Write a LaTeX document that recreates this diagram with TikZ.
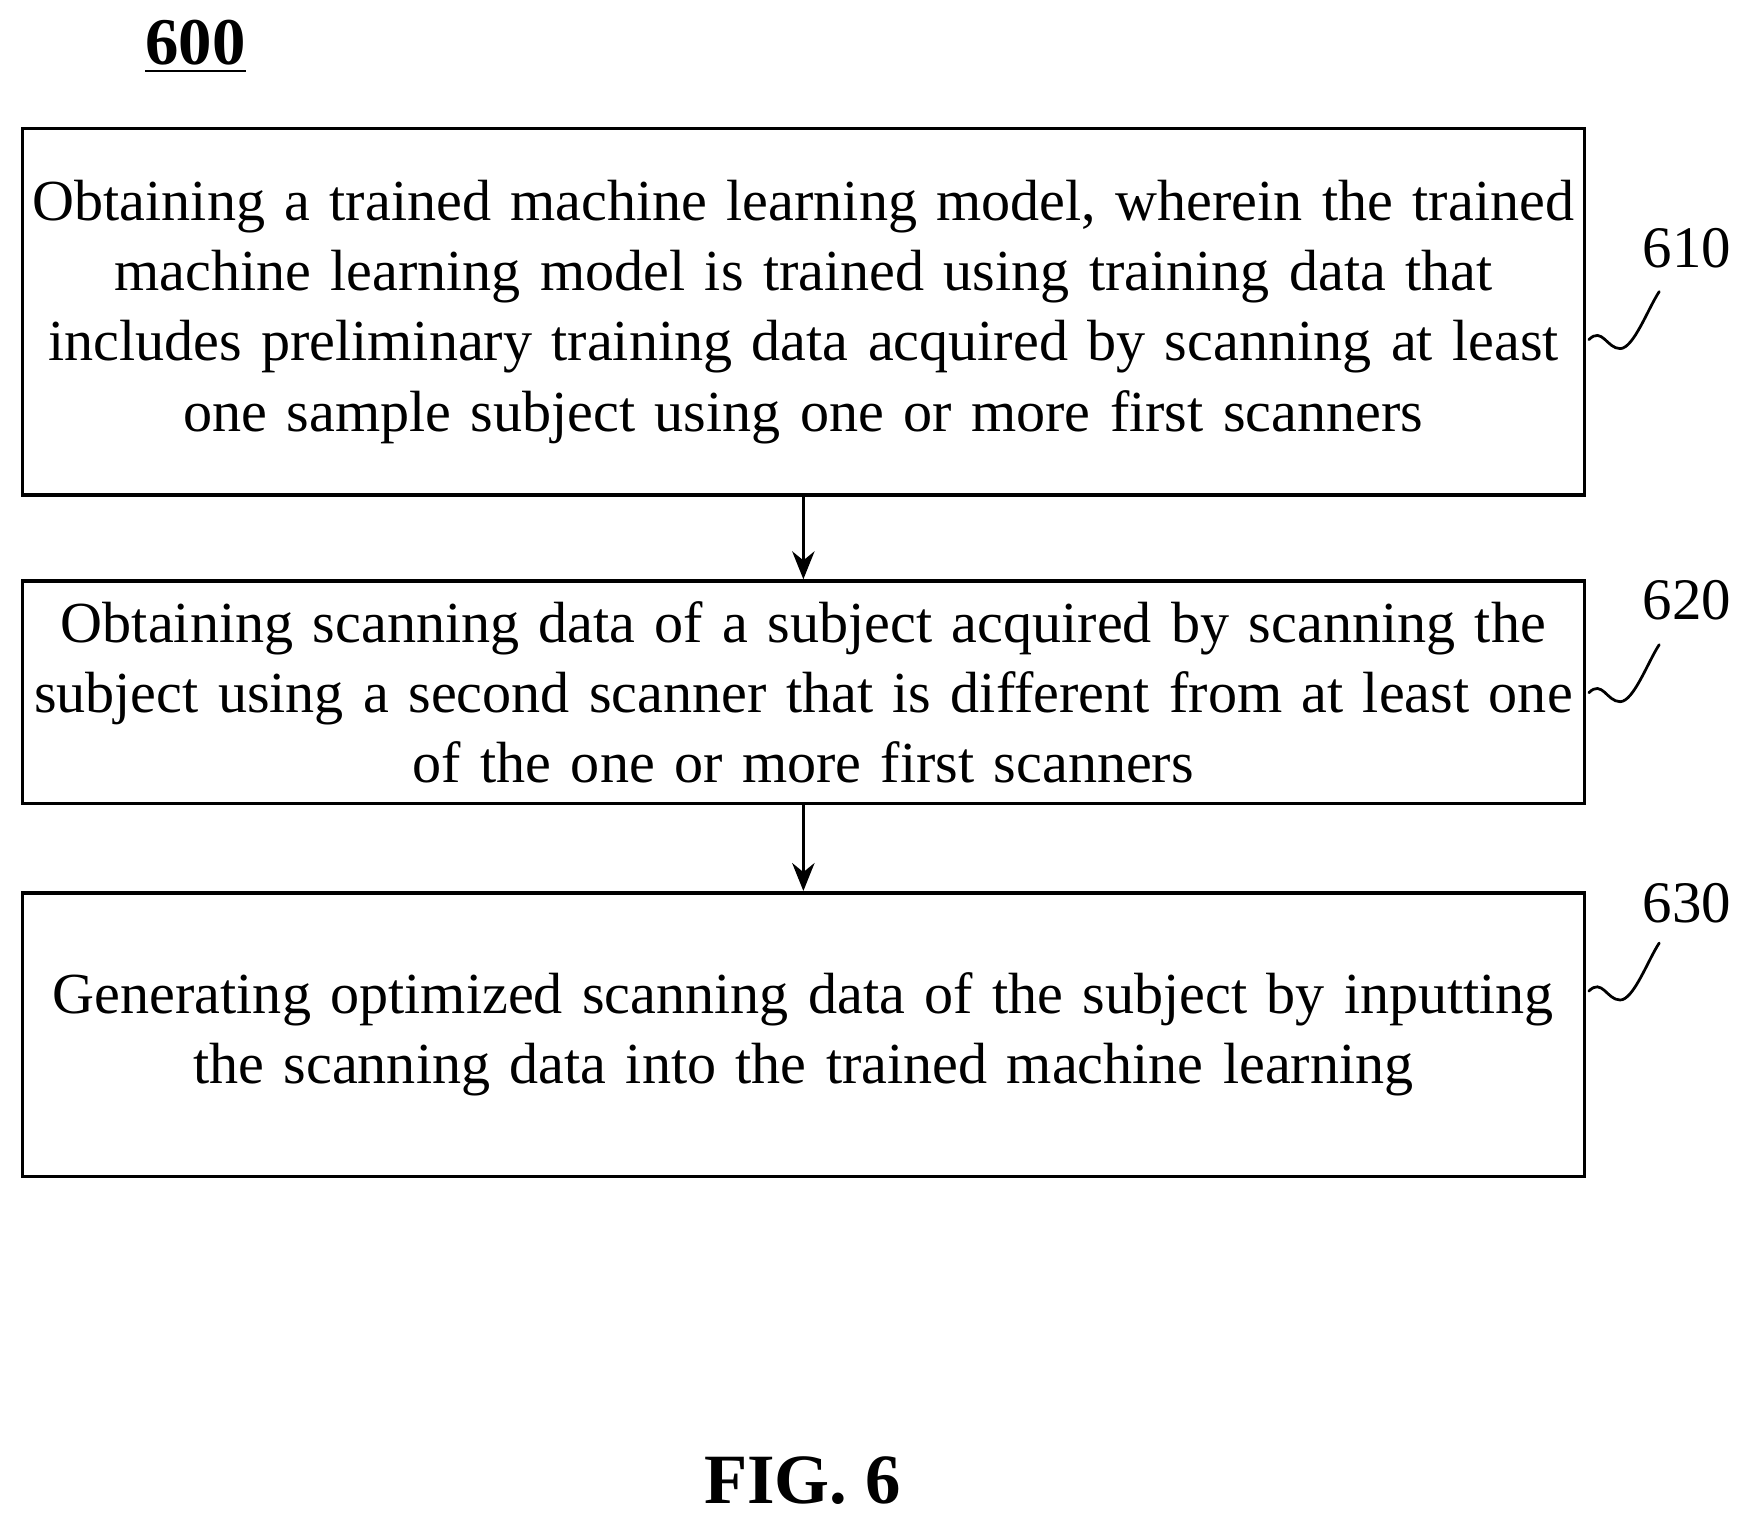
\documentclass[tikz,border=0pt]{standalone}
\usepackage{fontspec}
\setmainfont{Liberation Serif}
\usetikzlibrary{arrows.meta, calc}
\tikzset{
	stepbox/.style={draw, line width=0.9pt, text width=13.9cm, align=center, inner xsep=0.04cm, inner ysep=0pt},
	flow/.style={-{Stealth[length=2.5mm, width=2mm]}, line width=0.7pt},
	reflabel/.style={font=\fontsize{15}{18}\selectfont}
}
\newcommand{\Squiggle}[1]{
	\draw[line width=0.7pt] (#1) .. controls +(0.12,0.12) and +(-0.12,0) .. +(0.28,-0.08)
		.. controls +(0.12,0) and +(-0.1,-0.15) .. +(0.63,0.43);
}
\begin{document}
\begin{tikzpicture}[line cap = round, font=\fontsize{14.8}{17.9}\selectfont]

	\useasboundingbox (0,0) rectangle (15.6,-13.57);

	\node[font=\fontsize{17}{20}\selectfont\bfseries] (title) at (1.75,-0.42) {\underline{600}};

	\node[stepbox, minimum height=3.28cm] (s610) at (7.19,-2.79) {Obtaining a trained machine learning model, wherein the trained\\machine learning model is trained using training data that\\includes preliminary training data acquired by scanning at least\\one sample subject using one or more first scanners};
	\node[stepbox, minimum height=1.99cm] (s620) at (7.19,-6.195) {Obtaining scanning data of a subject acquired by scanning the\\subject using a second scanner that is different from at least one\\of the one or more first scanners};
	\node[stepbox, minimum height=2.54cm] (s630) at (7.19,-9.26) {Generating optimized scanning data of the subject by inputting\\the scanning data into the trained machine learning\\[-0.1cm]};

	\draw[flow] (s610.south) -- (s620.north);
	\draw[flow] (s620.south) -- (s630.north);

	\node[reflabel] (n610) at (15.1,-2.22) {610};
	\node[reflabel] (n620) at (15.1,-5.37) {620};
	\node[reflabel] (n630) at (15.1,-8.08) {630};

	\Squiggle{14.22,-3.04}
	\Squiggle{14.22,-6.2}
	\Squiggle{14.22,-8.87}

	\node[font=\fontsize{18}{22}\selectfont\bfseries] (fig) at (7.18,-13.25) {FIG. 6};

\end{tikzpicture}
\end{document}
